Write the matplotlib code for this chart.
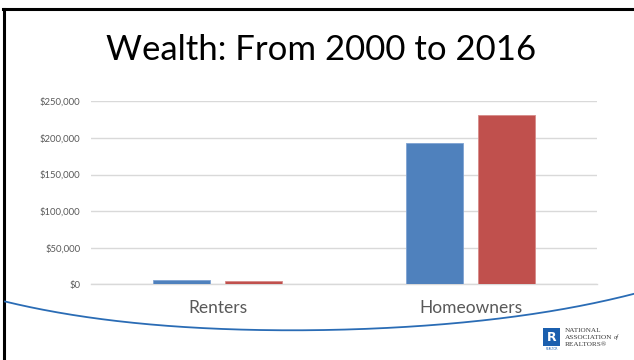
import numpy as np
import matplotlib
matplotlib.use("Agg")
import matplotlib.pyplot as plt
from matplotlib.patches import Rectangle
from matplotlib.lines import Line2D

# Data
categories = ["Renters", "Homeowners"]
wealth_2000 = [5500, 192600]
wealth_2016 = [4700, 231400]
yticks = [0, 50000, 100000, 150000, 200000, 250000]
ytick_labels = ["$0", "$50,000", "$100,000", "$150,000", "$200,000", "$250,000"]
title = "Wealth: From 2000 to 2016"

BLUE = "#4f81bd"
RED = "#c0504d"
GRID = "#d9d9d9"
TEXT_GRAY = "#595959"
FONT = ["Lato", "DejaVu Sans"]
SERIF = ["Liberation Serif", "DejaVu Serif"]

W, H = 634, 360
fig = plt.figure(figsize=(W / 100, H / 100), dpi=100)
fig.patch.set_facecolor("white")

def fx(px):
    return px / W

def fy(py):
    return 1 - py / H

ax = fig.add_axes([fx(91), fy(284.3), fx(597) - fx(91), fy(101.3) - fy(284.3)])
x = np.arange(len(categories))
bw = 0.225
off = 0.143
ax.bar(x - off, wealth_2000, width=bw, color=BLUE, edgecolor="#7fa3d3", linewidth=0.6, zorder=3)
ax.bar(x + off, wealth_2016, width=bw, color=RED, edgecolor="#d68b89", linewidth=0.6, zorder=3)

ax.set_xlim(-0.5, 1.5)
ax.set_ylim(0, 250000)
ax.set_yticks(yticks)
ax.set_yticklabels(ytick_labels, fontsize=6.8, color=TEXT_GRAY, family=FONT)
ax.set_xticks(x)
ax.set_xticklabels(categories, fontsize=12.5, color=TEXT_GRAY, family=FONT)
ax.tick_params(axis="y", length=0, pad=7.5)
ax.tick_params(axis="x", length=0, pad=11)
ax.grid(axis="y", color=GRID, linewidth=1.0, zorder=0)
for side in ["top", "right", "left"]:
    ax.spines[side].set_visible(False)
ax.spines["bottom"].set_color(GRID)
ax.spines["bottom"].set_linewidth(1.0)
ax.set_facecolor("none")

# Title
fig.text(fx(321), fy(50), title, ha="center", va="center", fontsize=25,
         color="black", family=FONT)

# Slide border (top and left edges)
fig.add_artist(Line2D([fx(3), fx(634)], [fy(8.5), fy(8.5)], color="black", linewidth=2.2))
fig.add_artist(Line2D([fx(4), fx(4)], [fy(8.5), fy(360)], color="black", linewidth=2.2))

# Decorative swoosh across the bottom of the slide
sx = np.array([5, 100, 200, 320, 414, 514, 581, 634])
sy = np.array([301.7, 318.3, 328.3, 331, 325, 316.7, 306.7, 293.3])
coef = np.polyfit(sx, sy, 4)
cx = np.linspace(5, 636, 300)
cy = np.polyval(coef, cx)
fig.add_artist(Line2D(fx(cx), fy(cy), color="#2a6cb5", linewidth=1.3))

# Logo block
fig.add_artist(Rectangle((fx(543.3), fy(346)), fx(560) - fx(543.3), fy(328.3) - fy(346),
                         facecolor="#1b5fae", edgecolor="none"))
fig.text(fx(551.6), fy(337.5), "R", ha="center", va="center", fontsize=9,
         fontweight="bold", color="white", family=["DejaVu Sans"])
fig.text(fx(551.6), fy(349), "REALTOR", ha="center", va="center", fontsize=2,
         color="#1b5fae", family=["DejaVu Sans"])
logo_lines = []
for i, line in enumerate(["NATIONAL", "ASSOCIATION", "REALTORS\u00ae"]):
    t = fig.text(fx(564.7), fy(331 + i * 6.5), line, ha="left", va="center",
                 fontsize=5.2, color="#3a3a3a", family=SERIF)
    logo_lines.append(t)
ax.annotate("of", xy=(1, 0.5), xycoords=logo_lines[1], xytext=(1, 0),
            textcoords="offset points", ha="left", va="center", fontsize=4.6,
            style="italic", color="#3a3a3a", family=SERIF, annotation_clip=False)

fig.savefig("out.png", dpi=100, facecolor="white")
